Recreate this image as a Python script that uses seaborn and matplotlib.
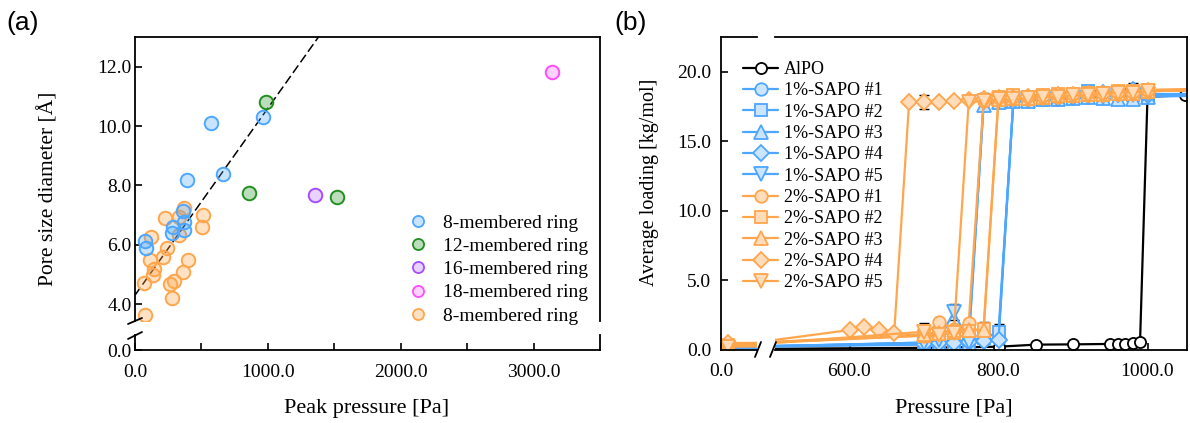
import matplotlib
matplotlib.use("Agg")
import matplotlib.pyplot as plt
from matplotlib.lines import Line2D
import seaborn as sns

# ---------------- panel (a) data ----------------
blue8_x = [963, 575, 663, 393, 363, 368, 368, 288, 280, 75, 83]
blue8_y = [10.3, 10.1, 8.38, 8.18, 7.14, 6.78, 6.5, 6.59, 6.4, 6.14, 5.88]
green12_x = [983, 855, 1517]
green12_y = [10.82, 7.75, 7.6]
purple16_x = [1358]
purple16_y = [7.68]
pink18_x = [3136]
pink18_y = [11.82]
orange8_x = [370, 225, 513, 505, 333, 333, 118, 243, 213, 113, 400, 143, 133, 363, 68, 263, 293, 280, 75]
orange8_y = [7.25, 6.89, 7.0, 6.59, 6.33, 6.94, 6.25, 5.88, 5.58, 5.48, 5.48, 5.17, 4.98, 5.09, 4.72, 4.67, 4.79, 4.19, 3.63]
legend_a = ["8-membered ring", "12-membered ring", "16-membered ring", "18-membered ring", "8-membered ring"]
fit_x = [0, 1400]
fit_intercept = 4.3
fit_slope = 0.0063

# ---------------- panel (b) data ----------------
P_alpo = [480, 700, 800, 850, 900, 950, 960, 970, 980, 990, 1000, 1050]
alpo = [0.05, 0.12, 0.2, 0.35, 0.37, 0.4, 0.4, 0.42, 0.45, 0.55, 18.2, 18.3]

P_sapo = [10, 480, 700, 720, 740, 760, 780, 800, 820, 840, 860, 880, 900, 920, 940, 960, 980, 1000, 1100]
sapo1_1 = [0.12, 0.25, 0.45, 0.5, 0.55, 0.6, 0.65, 0.75, 18.0, 18.1, 18.0, 18.2, 18.2, 18.3, 18.4, 18.3, 18.2, 18.3, 18.3]
sapo1_2 = [0.1, 0.22, 0.5, 0.55, 0.6, 0.7, 0.8, 1.28, 17.9, 18.0, 18.1, 18.1, 18.3, 18.6, 18.5, 18.4, 18.3, 18.3, 18.4]
sapo1_3 = [0.1, 0.2, 0.35, 0.4, 0.45, 0.5, 17.6, 17.8, 17.9, 17.9, 18.0, 18.0, 18.1, 18.2, 18.1, 18.0, 18.0, 18.2, 18.3]
sapo1_4 = [0.12, 0.23, 0.4, 0.45, 0.5, 0.55, 0.6, 0.7, 17.9, 18.0, 18.1, 18.1, 18.2, 18.4, 18.5, 18.4, 18.7, 18.3, 18.4]
sapo1_5 = [0.1, 0.2, 0.5, 0.7, 2.7, 0.56, 17.8, 17.9, 18.0, 17.9, 18.1, 18.0, 18.1, 18.2, 18.2, 18.3, 18.3, 18.4, 18.4]
sapo2_1 = [0.35, 0.5, 1.0, 2.0, 1.5, 1.9, 17.9, 18.0, 18.1, 18.0, 18.2, 18.2, 18.3, 18.3, 18.4, 18.4, 18.5, 18.6, 18.7]
sapo2_2 = [0.3, 0.45, 1.0, 1.1, 1.2, 1.3, 1.5, 18.2, 18.3, 18.2, 18.3, 18.4, 18.4, 18.5, 18.5, 18.6, 18.6, 18.7, 18.8]
sapo2_3 = [0.3, 0.5, 1.1, 1.2, 1.44, 1.44, 1.4, 18.0, 18.1, 18.1, 18.2, 18.3, 18.3, 18.4, 18.4, 18.5, 18.5, 18.6, 18.7]
P_sapo2_4 = [10, 480, 600, 620, 640, 660, 680, 700, 720, 740, 760, 780, 800, 820, 840, 860, 880, 900,
             920, 940, 960, 980, 1000, 1100]
sapo2_4 = [0.47, 0.55, 1.4, 1.64, 1.4, 1.21, 17.8, 17.85, 17.8, 17.9, 17.95, 18.0, 18.1, 18.1, 18.2, 18.2,
           18.3, 18.3, 18.4, 18.4, 18.5, 18.5, 18.6, 18.7]
sapo2_5 = [0.2, 0.4, 1.28, 1.04, 1.2, 17.8, 17.9, 18.0, 18.0, 18.1, 18.2, 18.2, 18.3, 18.3, 18.4, 18.5, 18.5, 18.6, 18.7]

series_names = ["AlPO", "1%-SAPO #1", "1%-SAPO #2", "1%-SAPO #3", "1%-SAPO #4", "1%-SAPO #5",
                "2%-SAPO #1", "2%-SAPO #2", "2%-SAPO #3", "2%-SAPO #4", "2%-SAPO #5"]
series_x = [P_alpo, P_sapo, P_sapo, P_sapo, P_sapo, P_sapo, P_sapo, P_sapo, P_sapo, P_sapo2_4, P_sapo]
series_y = [alpo, sapo1_1, sapo1_2, sapo1_3, sapo1_4, sapo1_5, sapo2_1, sapo2_2, sapo2_3, sapo2_4, sapo2_5]

err_series = ["2%-SAPO #5", "1%-SAPO #5", "2%-SAPO #2", "1%-SAPO #2", "2%-SAPO #4", "2%-SAPO #1",
              "1%-SAPO #4", "1%-SAPO #3", "AlPO"]
err_pressure = [700, 740, 780, 800, 700, 780, 980, 880, 1000]
err_value = [0.6, 0.55, 0.5, 0.55, 0.5, 0.6, 0.5, 0.4, 0.3]

# ---------------- style ----------------
sns.set_style("ticks", {"xtick.direction": "in", "ytick.direction": "in"})
plt.rcParams["font.family"] = ["Liberation Serif", "DejaVu Serif"]
plt.rcParams["axes.linewidth"] = 1.3
plt.rcParams["axes.edgecolor"] = "black"
plt.rcParams["text.color"] = "black"
plt.rcParams["axes.labelcolor"] = "black"
plt.rcParams["xtick.color"] = "black"
plt.rcParams["ytick.color"] = "black"

BLUE, BLUE_F = "#4da6ff", "#cce5ff"
ORANGE, ORANGE_F = "#ffa64d", "#ffdcba"

W, H = 1190, 423
fig = plt.figure(figsize=(W / 100, H / 100), dpi=100)


def fx(px):
    return px / W


def fy(py):
    return 1 - py / H


def add_ax(l, t, r, b):
    return fig.add_axes([fx(l), fy(b), fx(r) - fx(l), fy(t) - fy(b)])


TICK_FS = 14

# ================= panel (a) =================
axA = add_ax(135, 37, 600, 321)
axA0 = add_ax(135, 335, 600, 350)
for a in (axA, axA0):
    a.set_xlim(0, 3500)
    a.set_facecolor("none")
    a.spines["right"].set_visible(True)
    a.spines["top"].set_visible(True)
axA.set_ylim(3.43, 13.0)
axA0.set_ylim(0, 0.5)
axA.spines["bottom"].set_visible(False)
axA0.spines["top"].set_visible(False)

axA.set_yticks([4, 6, 8, 10, 12])
axA.set_yticklabels([f"{v:.1f}" for v in [4, 6, 8, 10, 12]])
axA.tick_params(axis="x", bottom=False, labelbottom=False)
axA.tick_params(axis="y", labelsize=TICK_FS, length=5, width=1.2, pad=2.5)
axA0.set_yticks([0])
axA0.set_yticklabels(["0.0"])
axA0.set_xticks([0, 1000, 2000, 3000])
axA0.set_xticklabels([f"{v:.1f}" for v in [0, 1000, 2000, 3000]])
axA0.set_xticks([500, 1500, 2500], minor=True)
axA0.tick_params(axis="both", which="both", labelsize=TICK_FS, length=5, width=1.2)
axA0.tick_params(axis="x", which="both", pad=10)
axA0.tick_params(axis="y", pad=2.5)

groups = [
    (orange8_x, orange8_y, ORANGE, "#ffa64d55"),
    (blue8_x, blue8_y, BLUE, "#4da6ff4d"),
    (green12_x, green12_y, "#1f8f1f", "#1f8f1f4d"),
    (purple16_x, purple16_y, "#a64dff", "#a64dff40"),
    (pink18_x, pink18_y, "#ff4dff", "#ff4dff40"),
]
for gx, gy, edge, face in groups:
    sns.scatterplot(x=gx, y=gy, ax=axA, s=95, color=face, edgecolor=edge, linewidth=1.4,
                    zorder=3, legend=False)

fit_y = [fit_intercept + fit_slope * v for v in fit_x]
axA.plot(fit_x, fit_y, color="black", lw=1.1, ls=(0, (6, 2.5)), zorder=2)

leg_a_handles = []
for edge, face in [(BLUE, "#4da6ff4d"), ("#1f8f1f", "#1f8f1f4d"), ("#a64dff", "#a64dff40"),
                   ("#ff4dff", "#ff4dff40"), (ORANGE, "#ffa64d55")]:
    leg_a_handles.append(Line2D([], [], ls="", marker="o", markersize=8, markerfacecolor=face,
                                markeredgecolor=edge, markeredgewidth=1.3))
fig.legend(leg_a_handles, legend_a, loc="upper left", bbox_to_anchor=(fx(408), fy(214)),
           frameon=False, fontsize=14, handlelength=1.0, handletextpad=0.8, labelspacing=0.29,
           borderpad=0, borderaxespad=0)

# break marks on left spine of (a)
fig.add_artist(Line2D([fx(128), fx(142)], [fy(324), fy(318)], color="black", lw=1.3))
fig.add_artist(Line2D([fx(128), fx(142)], [fy(339), fy(332)], color="black", lw=1.3))

fig.text(fx(367), fy(408), "Peak pressure [Pa]", fontsize=16, ha="center", va="center")
fig.text(fx(48), fy(189), "Pore size diameter [Å]", fontsize=15.5, ha="center", va="center",
         rotation=90)
fig.text(fx(6), fy(23), "(a)", fontsize=19, family="Liberation Sans", ha="left", va="center")

# ================= panel (b) =================
SCALE = 0.745  # px per Pa
axL = add_ax(721, 37, 757, 349.5)
axR = add_ax(775, 37, 1187, 349.5)
axL.set_xlim(0, 36 / SCALE)
axR.set_xlim(500, 500 + 412 / SCALE)
for a in (axL, axR):
    a.set_ylim(0, 22.5)
    a.set_facecolor("none")
axL.spines["right"].set_visible(False)
axR.spines["left"].set_visible(False)
axR.spines["right"].set_visible(True)
axL.spines["top"].set_visible(True)
axR.spines["top"].set_visible(True)

axL.set_yticks([0, 5, 10, 15, 20])
axL.set_yticklabels([f"{v:.1f}" for v in [0, 5, 10, 15, 20]])
axL.set_xticks([0])
axL.set_xticklabels(["0.0"])
axL.tick_params(axis="both", labelsize=TICK_FS, length=5, width=1.2)
axL.tick_params(axis="y", pad=7)
axL.tick_params(axis="x", pad=10)
axR.set_xticks([600, 800, 1000])
axR.set_xticklabels([f"{v:.1f}" for v in [600, 800, 1000]])
axR.tick_params(axis="y", left=False, labelleft=False)
axR.tick_params(axis="x", labelsize=TICK_FS, length=5, width=1.2, pad=10)

styles = {
    "AlPO": ("black", "white", "o", 8),
    "1%-SAPO #1": (BLUE, BLUE_F, "o", 9),
    "1%-SAPO #2": (BLUE, BLUE_F, "s", 8.5),
    "1%-SAPO #3": (BLUE, BLUE_F, "^", 10),
    "1%-SAPO #4": (BLUE, BLUE_F, "D", 8.5),
    "1%-SAPO #5": (BLUE, BLUE_F, "v", 10),
    "2%-SAPO #1": (ORANGE, ORANGE_F, "o", 9),
    "2%-SAPO #2": (ORANGE, ORANGE_F, "s", 8.5),
    "2%-SAPO #3": (ORANGE, ORANGE_F, "^", 10),
    "2%-SAPO #4": (ORANGE, ORANGE_F, "D", 8.5),
    "2%-SAPO #5": (ORANGE, ORANGE_F, "v", 10),
}

# error bars (drawn under the markers)
for name, p, e in zip(err_series, err_pressure, err_value):
    idx = series_names.index(name)
    yv = series_y[idx][series_x[idx].index(p)]
    for a in (axL, axR):
        a.errorbar([p], [yv], yerr=[e], fmt="none", ecolor="black", elinewidth=1.0,
                   capsize=3.5, capthick=1.0, zorder=1.5)

handles_b = []
for name, xs, ys in zip(series_names, series_x, series_y):
    edge, face, mk, ms = styles[name]
    for a in (axL, axR):
        sns.lineplot(x=xs, y=ys, ax=a, color=edge, marker=mk, markersize=ms, markerfacecolor=face,
                     markeredgecolor=edge, markeredgewidth=1.3, linewidth=1.6, estimator=None,
                     sort=False, legend=False, zorder=2)
    handles_b.append(Line2D([], [], color=edge, marker=mk, markersize=ms, markerfacecolor=face,
                            markeredgecolor=edge, markeredgewidth=1.3, linewidth=1.6))

fig.legend(handles_b, series_names, loc="upper left", bbox_to_anchor=(fx(743), fy(61)),
           frameon=False, fontsize=13, handlelength=1.95, handletextpad=0.3, labelspacing=0.24,
           borderpad=0, borderaxespad=0)

# break marks on bottom axis of (b)
fig.add_artist(Line2D([fx(755), fx(761)], [fy(357), fy(342)], color="black", lw=1.3))
fig.add_artist(Line2D([fx(770), fx(776)], [fy(357), fy(342)], color="black", lw=1.3))

fig.text(fx(954), fy(408), "Pressure [Pa]", fontsize=16, ha="center", va="center")
fig.text(fx(650), fy(182), "Average loading [kg/mol]", fontsize=14.5, ha="center", va="center",
         rotation=90)
fig.text(fx(614), fy(23), "(b)", fontsize=19, family="Liberation Sans", ha="left", va="center")

fig.savefig("out.png", dpi=100)
